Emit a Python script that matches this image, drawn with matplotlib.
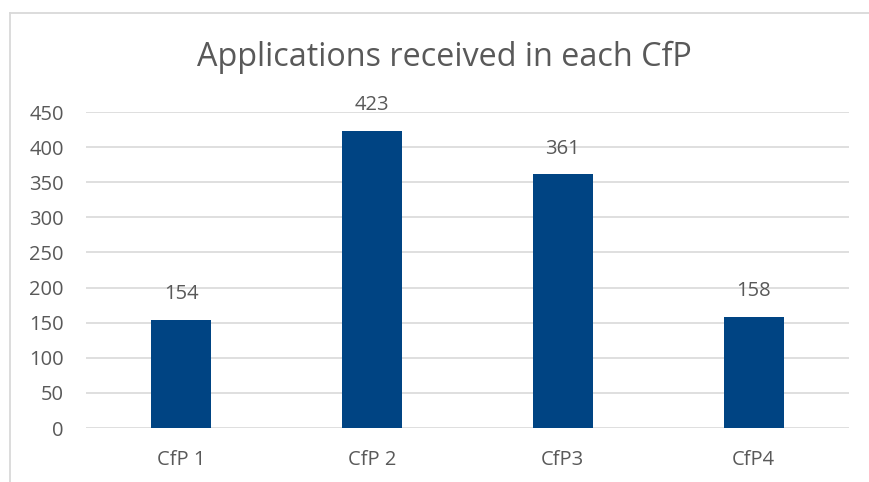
import matplotlib
matplotlib.use("Agg")
import matplotlib.pyplot as plt
from matplotlib.lines import Line2D

# data
categories = ["CfP 1", "CfP 2", "CfP3", "CfP4"]
applications = [154, 423, 361, 158]
y_ticks = [0, 50, 100, 150, 200, 250, 300, 350, 400, 450]

TEXT = "#595959"
GRID = "#D9D9D9"
BAR = "#004483"

plt.rcParams["font.family"] = ["Open Sans", "DejaVu Sans"]

W, H = 869, 482
fig = plt.figure(figsize=(W / 100, H / 100), dpi=100)

# chart border (cropped on right and bottom)
fig.lines.append(Line2D([10 / W, 10 / W], [0, 1 - 13 / H], transform=fig.transFigure,
                        color=GRID, linewidth=1.3))
fig.lines.append(Line2D([10 / W, 1], [1 - 13 / H, 1 - 13 / H], transform=fig.transFigure,
                        color=GRID, linewidth=1.3))

ax = fig.add_axes([86 / W, 1 - 428 / H, (849 - 86) / W, (428 - 112) / H])

x = range(len(categories))
bars = ax.bar(x, applications, width=0.315, color=BAR, zorder=3)

for xi, v in zip(x, applications):
    ax.annotate(str(v), (xi, v), xytext=(0, 18.5), textcoords="offset points",
                ha="center", va="center", fontsize=14.5, color=TEXT)

ax.set_xlim(-0.5, len(categories) - 0.5)
ax.set_ylim(0, 450)
ax.set_yticks(y_ticks)
ax.set_xticks(list(x))
ax.set_xticklabels(categories)
ax.yaxis.grid(True, color=GRID, linewidth=1.2, zorder=0)
ax.set_axisbelow(True)
for s in ax.spines.values():
    s.set_visible(False)
ax.tick_params(axis="both", length=0, labelsize=14.5, labelcolor=TEXT)
ax.tick_params(axis="y", pad=16)
ax.tick_params(axis="x", pad=16)

fig.text(444 / W, 1 - 57 / H, "Applications received in each CfP",
         ha="center", va="center", fontsize=23.3, color=TEXT)

fig.savefig("out.png", dpi=100)
